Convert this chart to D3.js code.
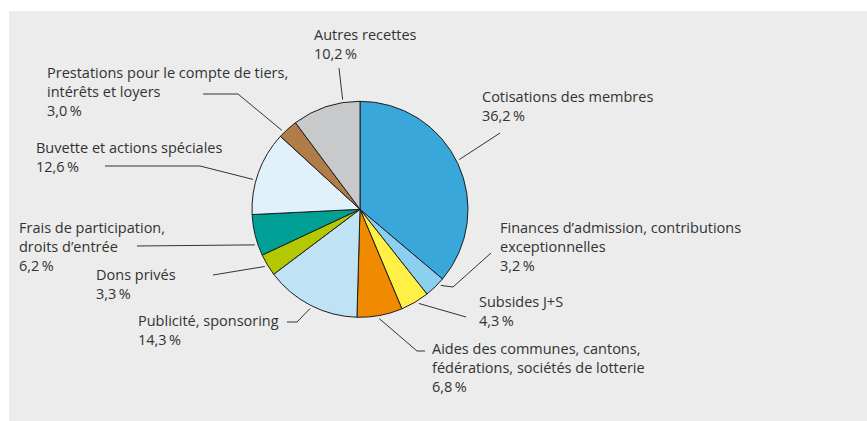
<!DOCTYPE html>
<html>
<head>
<meta charset="utf-8">
<script src="https://cdn.jsdelivr.net/npm/d3@7.9.0/dist/d3.min.js"></script>
<style>
  html, body { margin: 0; padding: 0; background: #fff; }
  svg { display: block; }
  text { font-family: "Open Sans", "Noto Sans", sans-serif; font-size: 14.5px; fill: #333; }
</style>
</head>
<body>
<svg id="chart" width="867" height="421"></svg>
<script>
// categories, clockwise from 12 o'clock
const categories = [
  'Cotisations des membres',
  'Finances d’admission, contributions exceptionnelles',
  'Subsides J+S',
  'Aides des communes, cantons, fédérations, sociétés de lotterie',
  'Publicité, sponsoring',
  'Dons privés',
  'Frais de participation, droits d’entrée',
  'Buvette et actions spéciales',
  'Prestations pour le compte de tiers, intérêts et loyers',
  'Autres recettes'
];
const shares = [36.2, 3.2, 4.3, 6.8, 14.3, 3.3, 6.2, 12.6, 3.0, 10.2];
// label lines as printed
const labelLines = [
  ['Cotisations des membres'],
  ['Finances d’admission, contributions', 'exceptionnelles'],
  ['Subsides J+S'],
  ['Aides des communes, cantons,', 'fédérations, sociétés de lotterie'],
  ['Publicité, sponsoring'],
  ['Dons privés'],
  ['Frais de participation,', 'droits d’entrée'],
  ['Buvette et actions spéciales'],
  ['Prestations pour le compte de tiers,', 'intérêts et loyers'],
  ['Autres recettes']
];
const sliceColors = ['#3aa7db', '#8bd0f0', '#fff046', '#f08a00', '#bfe3f5',
                     '#b3c800', '#00a096', '#e1f1fb', '#b07d48', '#c8c9cb'];

// layout: label anchor (x, first baseline) + leader points; last leader point is a rim angle (deg)
const layout = [
  { x: 482, y: 102, pts: [[500, 133]], rim: 63.4 },
  { x: 500, y: 233, pts: [[491, 253], [453, 287]], rim: 133.3 },
  { x: 479, y: 307, pts: [[466, 317]], rim: 148 },
  { x: 432, y: 354, pts: [[425, 351], [417, 351]], rim: 170 },
  { x: 138, y: 326, pts: [[287, 322], [297, 322]], rim: 206.7 },
  { x: 96,  y: 280, pts: [[213, 275]], rim: 239 },
  { x: 19,  y: 233, pts: [[137, 246]], rim: 251.3 },
  { x: 36,  y: 153, pts: [[105, 166], [200, 166]], rim: 285.6 },
  { x: 47,  y: 78,  pts: [[203, 94], [238, 94]], rim: 315.3 },
  { x: 314, y: 40,  pts: [[339, 68]], rim: 351 }
];

const svg = d3.select('#chart');
const W = 867, H = 421;
const cx = 360, cy = 209.3, R = 108, lineH = 19;

// panel
svg.append('rect').attr('x', 9).attr('y', 11).attr('width', W - 9).attr('height', H - 11)
  .attr('fill', '#ebeceb');

const data = categories.map((c, i) => ({ cat: c, value: shares[i], lines: labelLines[i], color: sliceColors[i], lay: layout[i] }));

const pie = d3.pie().sort(null).value(d => d.value);
const arc = d3.arc().innerRadius(0).outerRadius(R);

const g = svg.append('g').attr('transform', `translate(${cx},${cy})`);
g.selectAll('path.slice')
  .data(pie(data))
  .join('path')
  .attr('class', 'slice')
  .attr('d', arc)
  .attr('fill', d => d.data.color)
  .attr('stroke', '#1e1e1e')
  .attr('stroke-width', 1)
  .attr('stroke-linejoin', 'round');

// leaders
const line = d3.line();
svg.selectAll('path.leader')
  .data(data)
  .join('path')
  .attr('class', 'leader')
  .attr('fill', 'none')
  .attr('stroke', '#333')
  .attr('stroke-width', 1)
  .attr('d', d => {
    const a = d.lay.rim * Math.PI / 180;
    const rr = R + 3;
    const end = [cx + rr * Math.sin(a), cy - rr * Math.cos(a)];
    return line(d.lay.pts.concat([end]));
  });

// labels
const fmt = v => d3.format('.1f')(v).replace('.', ',') + '\u2009%';
const labels = svg.selectAll('text.label')
  .data(data)
  .join('text')
  .attr('class', 'label')
  .attr('x', d => d.lay.x)
  .attr('y', d => d.lay.y);
labels.each(function (d) {
  const t = d3.select(this);
  d.lines.concat([fmt(d.value)]).forEach((s, i) => {
    t.append('tspan').attr('x', d.lay.x).attr('y', d.lay.y + i * lineH).text(s);
  });
});
</script>
</body>
</html>
